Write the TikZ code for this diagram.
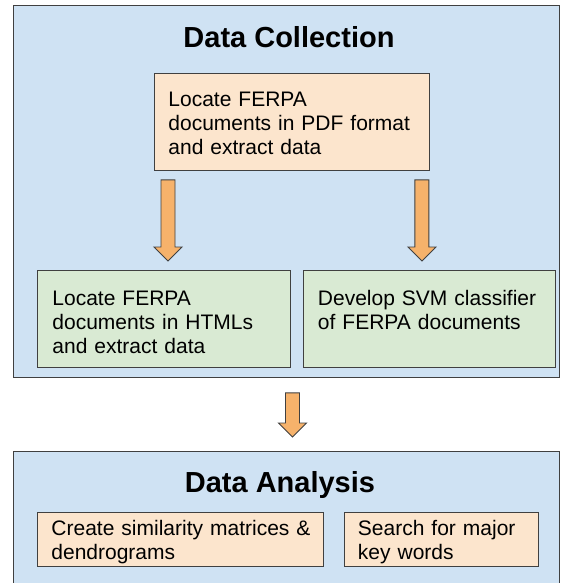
\documentclass[tikz,border=0pt]{standalone}
\usepackage{fontspec}
\setmainfont{Liberation Sans}
\usetikzlibrary{calc}

\definecolor{stageblue}{HTML}{CFE2F3}
\definecolor{taskorange}{HTML}{FCE5CD}
\definecolor{resultgreen}{HTML}{D9EAD3}
\definecolor{arrowfill}{HTML}{F6B26B}

\begin{document}
\begin{tikzpicture}[
        x=1pt, y=-1pt,
        stagebox/.style={draw=black!75, fill=stageblue, line width=0.9pt, anchor=north west, inner sep=0pt},
        taskbox/.style={draw=black!75, line width=0.9pt, anchor=north west, align=left,
            inner xsep=14pt, inner ysep=0pt, font={\fontsize{21}{24}\selectfont}},
        ferpatask/.style={taskbox, fill=taskorange},
        ferparesult/.style={taskbox, fill=resultgreen},
        stagetitle/.style={anchor=base, font={\fontsize{29}{34}\selectfont\bfseries}},
        blockarrow/.style={draw=black!75, fill=arrowfill, line width=0.9pt, line join=miter,
            to path={let \p1=(\tikztostart), \p2=(\tikztotarget) in
                (\x1-7pt,\y1) -- (\x1+7pt,\y1) -- (\x1+7pt,\y2+14pt) -- (\x1+14pt,\y2+14pt)
                -- (\x1,\y2) -- (\x1-14pt,\y2+14pt) -- (\x1-7pt,\y2+14pt) -- cycle}}
    ]
    \useasboundingbox (0,0) rectangle (560,583);
    \clip (0,0) rectangle (560,583);

% ---------- stage 1: collection ----------
    \node[stagebox, minimum width=546pt, minimum height=372pt] (collect) at (13,5) {};
    \node[stagetitle] (collecttitle) at (289,48) {Data Collection};

    \node[ferpatask, text width=247pt, text height=33pt, text depth=64pt] (pdf) at (154,73)
        {Locate FERPA\\documents in PDF format\\and extract data};
    \node[ferparesult, inner xsep=15pt, text width=223pt, text height=35pt, text depth=62pt] (html) at (37,270)
        {Locate FERPA\\documents in HTMLs\\and extract data};
    \node[ferparesult, inner xsep=15pt, text width=222pt, text height=35pt, text depth=62pt] (svm) at (302.5,270)
        {Develop SVM classifier\\of FERPA documents};

    \draw[blockarrow] ($(pdf.south west)+(14,9)$) to ($(html.north)+(0,-9)$);
    \draw[blockarrow] ($(pdf.south east)+(-8,9)$) to ($(svm.north)+(0,-9)$);

% ---------- stage 2: analysis ----------
    \node[stagebox, minimum width=546pt, minimum height=160pt] (analysis) at (13,451) {};
    \node[stagetitle] (analysistitle) at (280,492) {Data Analysis};

    \draw[blockarrow] ($(collect.south)+(6,15)$) to ($(analysis.north)+(0,-14)$);

    \node[ferpatask, text width=258pt, text height=23pt, text depth=31pt] (simmat) at (37,512)
        {\mbox{Create similarity matrices \&}\\dendrograms};
    \node[ferpatask, text width=166pt, text height=23pt, text depth=31pt] (keywords) at (343.5,512)
        {Search for major\\key words};

\end{tikzpicture}
\end{document}
